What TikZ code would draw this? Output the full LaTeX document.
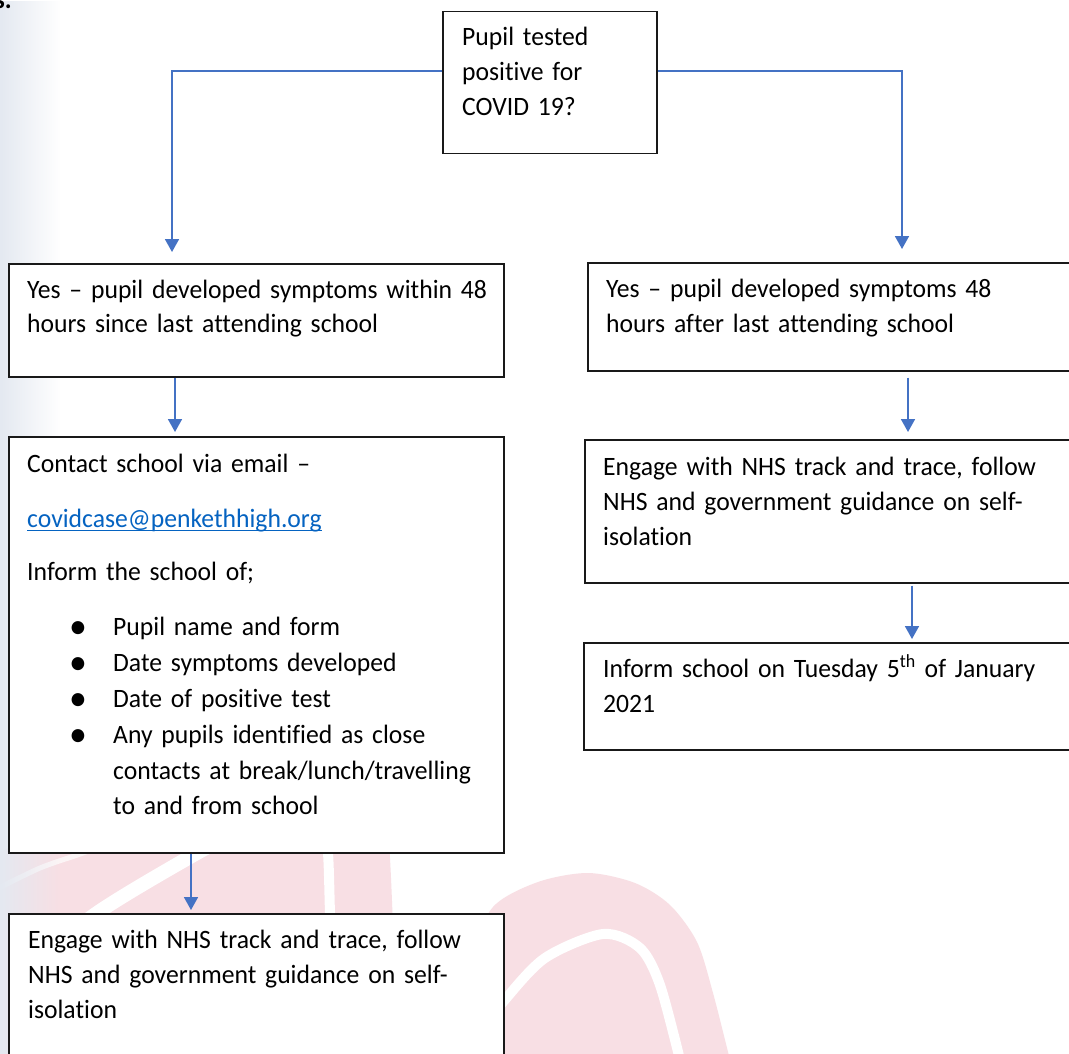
\documentclass[tikz,border=0pt]{standalone}
\usepackage{fontspec}
\setmainfont{Carlito}[FakeStretch=0.968, Ligatures=NoCommon]
\usetikzlibrary{arrows.meta,fadings}
\definecolor{wmpink}{RGB}{248,223,228}
\definecolor{edgegray}{RGB}{228,233,241}
\definecolor{linkblue}{RGB}{5,99,193}
\definecolor{connblue}{RGB}{68,114,196}
\definecolor{boxline}{RGB}{25,25,25}
\newcommand{\myuline}[1]{\setbox0=\hbox{#1}\copy0\kern-\wd0\rule[-4pt]{\wd0}{1.3pt}}
\newcommand{\bigbul}{{\fontsize{37pt}{35pt}\selectfont\raisebox{-3.5pt}{•}}}
\begin{document}
\begin{tikzpicture}[x=1pt,y=-1pt,
  box/.style={draw=boxline, line width=1.5pt, fill=white, rectangle, inner sep=0pt, anchor=north west},
  txt/.style={anchor=base west, inner sep=0pt, align=left, text width=#1, font=\fontsize{26.5pt}{35pt}\selectfont},
  txt/.default=480pt,
  conn/.style={draw=connblue, line width=1.8pt, -{Triangle[width=14pt,length=13pt]}},
  wmstripe/.style={draw=white, line width=#1, line cap=round}
]
\useasboundingbox (0,0) rectangle (1069,1054);
\clip (0,0) rectangle (1069,1054);
\fill[white] (0,0) rectangle (1069,1054);

% watermark
\fill[wmpink] (0,852) .. controls (120,790) and (300,740) .. (385,800)
   .. controls (392,850) and (393,950) .. (398,1060) -- (0,1060) -- cycle;
\draw[wmstripe=5pt, draw opacity=0.7] plot[smooth] coordinates {(-5,890) (40,868) (83,853) (130,835)};
\draw[wmstripe=14pt] plot[smooth] coordinates {(20,975) (97,913) (197,853) (270,815)};
\draw[wmstripe=10pt] plot[smooth] coordinates {(322,800) (328,853) (330,913) (332,960)};
\fill[wmpink] plot[smooth] coordinates {(455,1060) (470,960) (493,907) (538,882) (588,873) (635,883) (670,905) (697,942) (713,993) (730,1060)} -- cycle;
\draw[wmstripe=10pt] plot[smooth] coordinates {(470,1045) (503,1002) (545,958) (603,934) (640,948) (660,985) (680,1060)};
\fill[edgegray, path fading=east] (0,0) rectangle (60,1054);

% fragment at top-left
\node[anchor=base east, inner sep=0pt, font=\fontsize{26.5pt}{35pt}\selectfont\bfseries] (frag) at (12,9) {s.};

% boxes
\node[box, minimum width=214pt, minimum height=142pt] (top) at (442,11) {};
\node[box, minimum width=495pt, minimum height=113pt] (L1) at (8,263) {};
\node[box, minimum width=495pt, minimum height=416pt] (L2) at (8,436) {};
\node[box, minimum width=495pt, minimum height=170pt] (L3) at (8,913) {};
\node[box, minimum width=495pt, minimum height=108pt] (R1) at (587,262) {};
\node[box, minimum width=498pt, minimum height=143pt] (R2) at (584,439) {};
\node[box, minimum width=499pt, minimum height=107pt] (R3) at (583,642) {};

% texts
\node[txt=190pt] (ttop) at (462,46) {Pupil tested\\positive for\\COVID 19?};
\node[txt] (tL1) at (27,298) {Yes – pupil developed symptoms within 48\\hours since last attending school};
\node[txt] (tR1) at (606,297) {Yes – pupil developed symptoms 48\\hours after last attending school};
\node[txt] (tR2) at (603,475) {Engage with NHS track and trace, follow\\NHS and government guidance on self-\\isolation};
\node[txt] (tR3) at (603,677) {Inform school on Tuesday 5\textsuperscript{th} of January\\2021};
\node[txt] (tL2) at (27,472) {Contact school via email –\\[20pt]
  \textcolor{linkblue}{\myuline{covidcase@penkethhigh.org}}\\[18pt]
  Inform the school of;\\[20pt]
  \hspace*{42pt}\makebox[44pt][l]{\bigbul}Pupil name and form\\[1pt]
  \hspace*{42pt}\makebox[44pt][l]{\bigbul}Date symptoms developed\\[1pt]
  \hspace*{42pt}\makebox[44pt][l]{\bigbul}Date of positive test\\[1pt]
  \hspace*{42pt}\makebox[44pt][l]{\bigbul}Any pupils identified as close\\[1pt]
  \hspace*{86pt}contacts at break/lunch/travelling\\[0pt]
  \hspace*{86pt}to and from school};
\node[txt] (tL3) at (28,948) {Engage with NHS track and trace, follow\\NHS and government guidance on self-\\isolation};

% connectors
\draw[conn] ([yshift=12pt]top.west) -| ([yshift=11pt]L1.north -| 172,0);
\draw[conn] ([yshift=12pt]top.east) -| ([yshift=13pt]R1.north -| 902,0);
\draw[conn] (L1.south -| 175,0) -- ([yshift=4pt]L2.north -| 175,0);
\draw[conn] (L2.south -| 191,0) -- ([yshift=3pt]L3.north -| 191,0);
\draw[conn] ([yshift=-6pt]R1.south -| 908,0) -- ([yshift=7pt]R2.north -| 908,0);
\draw[conn] ([yshift=-2pt]R2.south -| 912,0) -- ([yshift=3pt]R3.north -| 912,0);
\end{tikzpicture}
\end{document}
